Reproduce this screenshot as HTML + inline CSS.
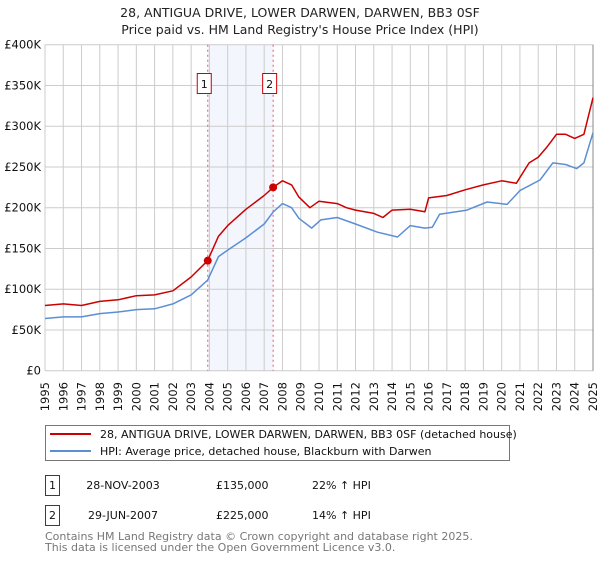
<!DOCTYPE html>
<html><head><meta charset="utf-8"><style>
body{margin:0;background:#fff;font-family:"DejaVu Sans","Liberation Sans",sans-serif;}
svg text{font-family:"DejaVu Sans","Liberation Sans",sans-serif;}
</style></head><body>
<svg id="c" width="600" height="560" xmlns="http://www.w3.org/2000/svg">
<text x="300" y="17" text-anchor="middle" font-size="12.5" fill="#222">28, ANTIGUA DRIVE, LOWER DARWEN, DARWEN, BB3 0SF</text>
<text x="300" y="34" text-anchor="middle" font-size="12.5" fill="#222">Price paid vs. HM Land Registry's House Price Index (HPI)</text>
<g id="grid"></g>
<g id="series"></g>
<g>
<rect x="45.5" y="425.5" width="464" height="35" fill="#fff" stroke="#777"/>
<line x1="50" y1="434" x2="91" y2="434" stroke="#cc0000" stroke-width="2"/>
<text x="100" y="438" font-size="11" fill="#111">28, ANTIGUA DRIVE, LOWER DARWEN, DARWEN, BB3 0SF (detached house)</text>
<line x1="50" y1="451" x2="91" y2="451" stroke="#5b8fd4" stroke-width="2"/>
<text x="100" y="455" font-size="11" fill="#111">HPI: Average price, detached house, Blackburn with Darwen</text>
</g>
<g font-size="11" fill="#111">
<rect x="45.5" y="475.5" width="14" height="20" fill="#fff" stroke="#cc0000"/>
<text x="52.5" y="489" text-anchor="middle">1</text>
<text x="123" y="489" text-anchor="middle">28-NOV-2003</text>
<text x="216" y="489">£135,000</text>
<text x="312" y="489">22% ↑ HPI</text>
<rect x="45.5" y="505.5" width="14" height="20" fill="#fff" stroke="#cc0000"/>
<text x="52.5" y="519" text-anchor="middle">2</text>
<text x="123" y="519" text-anchor="middle">29-JUN-2007</text>
<text x="216" y="519">£225,000</text>
<text x="312" y="519">14% ↑ HPI</text>
</g>
<text x="45" y="540" font-size="11" fill="#777">Contains HM Land Registry data © Crown copyright and database right 2025.</text>
<text x="45" y="551" font-size="11" fill="#777">This data is licensed under the Open Government Licence v3.0.</text>
</svg>
<script>
const yTicks=[0,50000,100000,150000,200000,250000,300000,350000,400000];
const yTickLabels=["£0","£50K","£100K","£150K","£200K","£250K","£300K","£350K","£400K"];
const years=[1995,1996,1997,1998,1999,2000,2001,2002,2003,2004,2005,2006,2007,2008,2009,2010,2011,2012,2013,2014,2015,2016,2017,2018,2019,2020,2021,2022,2023,2024,2025];
const hpiDates=[1995,1996,1997,1998,1999,2000,2001,2002,2003,2003.9,2004.5,2005,2006,2007,2007.5,2008,2008.5,2008.9,2009.6,2010.1,2011,2012,2013.2,2014.3,2015,2015.8,2016.2,2016.6,2018.1,2019.2,2020.3,2021,2022.1,2022.8,2023.5,2024.1,2024.5,2025];
const hpiValues=[64000,66000,66000,70000,72000,75000,76000,82000,93000,111000,140000,148000,163000,180000,195000,205000,200000,187000,175000,185000,188000,180000,170000,164000,178000,175000,176000,192000,197000,207000,204000,221000,234000,255000,253000,248000,255000,292000];
const priceDates=[1995,1996,1997,1998,1999,2000,2001,2002,2003,2003.9,2004.5,2005,2006,2007,2007.5,2008,2008.5,2008.9,2009.5,2010,2011,2011.5,2012,2013,2013.5,2014,2015,2015.8,2016,2017,2018,2019,2020,2020.8,2021.5,2022,2022.5,2023,2023.5,2024,2024.5,2025];
const priceValues=[80000,82000,80000,85000,87000,92000,93000,98000,115000,135000,165000,178000,198000,215000,225000,233000,228000,213000,200000,208000,205000,200000,197000,193000,188000,197000,198000,195000,212000,215000,222000,228000,233000,230000,255000,262000,275000,290000,290000,285000,290000,335000];
const saleDates=[2003.91,2007.49];
const saleValues=[135000,225000];
const saleLabels=["1","2"];

const X0=45,X1=593,Y0=370.7,Y1=44.7;
const xs=d=>X0+(d-1995)/(2025-1995)*(X1-X0);
const ys=v=>Y0-v/400000*(Y0-Y1);
const NS="http://www.w3.org/2000/svg";
function mk(tag,attrs,parent){const e=document.createElementNS(NS,tag);for(const k in attrs)e.setAttribute(k,attrs[k]);parent.appendChild(e);return e;}
const grid=document.getElementById('grid');
const ser=document.getElementById('series');
const band=mk('rect',{x:xs(saleDates[0]),y:Y1,width:xs(saleDates[1])-xs(saleDates[0]),height:Y0-Y1,fill:'#f3f6fd'},grid);


yTicks.forEach((t,i)=>{
  const l=mk('line',{x1:X0,x2:X1,y1:ys(t),y2:ys(t),stroke:'#cccccc','stroke-width':1},grid);
  
  
  const tx=mk('text',{x:X0-4,y:ys(t)+4,'text-anchor':'end','font-size':11.5,fill:'#111'},grid);
  tx.textContent=yTickLabels[i];
  
  
});
years.forEach(yr=>{
  const l=mk('line',{x1:xs(yr),x2:xs(yr),y1:Y1,y2:Y0,stroke:'#cccccc','stroke-width':1},grid);
  
  
  const tx=mk('text',{x:0,y:0,'text-anchor':'end','font-size':11.5,fill:'#111',transform:`translate(${xs(yr)+4},382) rotate(-90)`},grid);
  tx.textContent=String(yr);
  
  
});
const edge=mk('line',{x1:X1,x2:X1,y1:Y1,y2:Y0,stroke:'#888','stroke-width':1},grid);


saleDates.forEach((d,i)=>{
  const l=mk('line',{x1:xs(d),x2:xs(d),y1:Y1,y2:Y0,stroke:'#ee5555','stroke-width':1,'stroke-dasharray':'2,3'},grid);
  
  
  const r=mk('rect',{x:xs(d)-10.5,y:73.5,width:14,height:20,fill:'#fff',stroke:'#cc0000'},grid);
  
  
  const t=mk('text',{x:xs(d)-3.5,y:88,'text-anchor':'middle','font-size':11,fill:'#111'},grid);
  t.textContent=saleLabels[i];
  
  
});
function path(ds,vs){return ds.map((d,i)=>(i?'L':'M')+xs(d).toFixed(1)+','+ys(vs[i]).toFixed(1)).join('');}
const hp=mk('path',{d:path(hpiDates,hpiValues),fill:'none',stroke:'#5b8fd4','stroke-width':1.5,'stroke-linejoin':'round'},ser);


const pp=mk('path',{d:path(priceDates,priceValues),fill:'none',stroke:'#cc0000','stroke-width':1.5,'stroke-linejoin':'round'},ser);


saleDates.forEach((d,i)=>{
  const c=mk('circle',{cx:xs(d),cy:ys(saleValues[i]),r:4,fill:'#cc0000'},ser);
  
  
});
</script>
</body></html>
